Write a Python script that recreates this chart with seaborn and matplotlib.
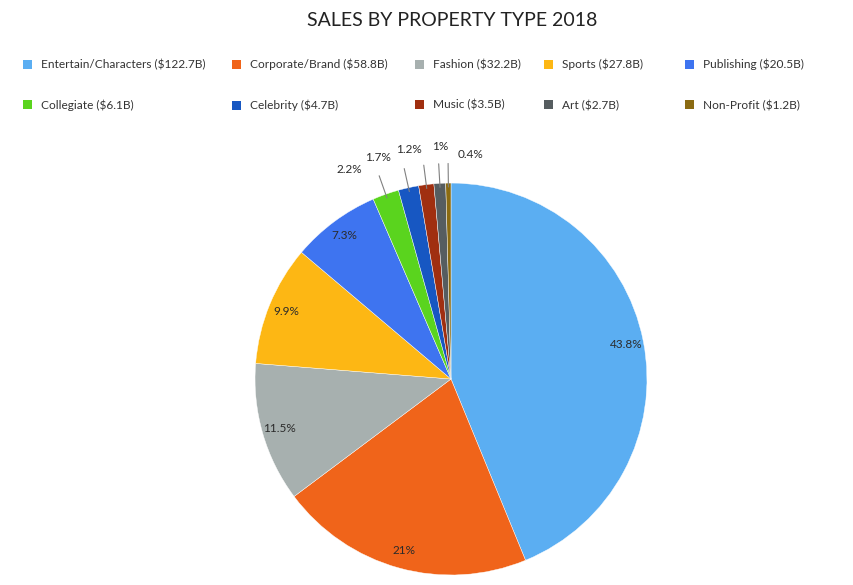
import numpy as np
import matplotlib
matplotlib.use("Agg")
import matplotlib.pyplot as plt
from matplotlib.patches import Patch
import seaborn as sns

# Licensing sales by property type, 2018 (billions of USD)
categories = ["Entertain/Characters", "Corporate/Brand", "Fashion", "Sports", "Publishing",
              "Collegiate", "Celebrity", "Music", "Art", "Non-Profit"]
sales = [122.7, 58.8, 32.2, 27.8, 20.5, 6.1, 4.7, 3.5, 2.7, 1.2]
colors = ["#5BAEF2", "#F0641A", "#A7B0AF", "#FDB714", "#3E74F0",
          "#5AD41E", "#1757C2", "#A02F10", "#565D60", "#8B6B12"]
title = "SALES BY PROPERTY TYPE 2018"

sns.set_theme(style="white")
palette = sns.color_palette(colors)
plt.rcParams["font.family"] = ["Lato", "DejaVu Sans"]

fig = plt.figure(figsize=(8.54, 5.85), dpi=100)
fig.patch.set_facecolor("white")

total = sum(sales)
pcts = [100 * v / total for v in sales]


def fmt_pct(p):
    s = f"{p:.1f}"
    if s.endswith(".0"):
        s = s[:-2]
    return s + "%"


small = [p < 3 for p in pcts]

ax = fig.add_axes([0.2986, 0.0171, 0.459, 0.670])
wedges, _ = ax.pie(sales, colors=palette, startangle=90, counterclock=False, radius=1.0,
                   wedgeprops=dict(edgecolor="white", linewidth=0.3))
ax.set_xlim(-1, 1)
ax.set_ylim(-1, 1)
ax.set_aspect("equal")
ax.axis("off")

mids = [np.deg2rad((w.theta1 + w.theta2) / 2) for w in wedges]

# in-slice percentage labels
for i, (m, p) in enumerate(zip(mids, pcts)):
    if small[i]:
        continue
    r = 0.91
    ax.text(r * np.cos(m), r * np.sin(m), fmt_pct(p), ha="center", va="center",
            fontsize=8.5, color="#2b2b2b")

# outside labels for thin slices, fanned out above the pie with radial leader lines
small_idx = [i for i in range(len(sales)) if small[i]]
small_mids = np.rad2deg([mids[i] for i in small_idx])
center_ang = np.mean(small_mids) + 1.8
n = len(small_idx)
for k, i in enumerate(small_idx):
    la = np.deg2rad(center_ang + ((n - 1) / 2 - k) * 7.7)
    lr = 1.19 - (0.04 if k == n - 1 else 0.0)
    ax.text(lr * np.cos(la), lr * np.sin(la), fmt_pct(pcts[i]), ha="center", va="center",
            fontsize=8.5, color="#2b2b2b", clip_on=False)
    m = mids[i]
    ax.plot([1.10 * np.cos(m), 0.98 * np.cos(m)],
            [1.10 * np.sin(m), 0.98 * np.sin(m)],
            color="#808080", lw=0.8, clip_on=False)

fig.text(0.530, 1 - 20 / 585, title, ha="center", va="center", fontsize=14, color="#222222")

# legend: five columns of two entries each
col_x = [27, 236, 419, 548, 689]
for c in range(5):
    handles = []
    for row in range(2):
        i = row * 5 + c
        handles.append(Patch(facecolor=palette[i], edgecolor="none",
                             label=f"{categories[i]} (${sales[i]}B)"))
    fig.legend(handles=handles, loc="upper left",
               bbox_to_anchor=((col_x[c] - 4) / 854, 1 - 59 / 585),
               frameon=False, fontsize=8.6, handlelength=0.78, handleheight=0.78,
               handletextpad=0.75, labelspacing=2.45, borderpad=0, borderaxespad=0,
               labelcolor="#333333")

fig.savefig("out.png", dpi=100, facecolor="white")
